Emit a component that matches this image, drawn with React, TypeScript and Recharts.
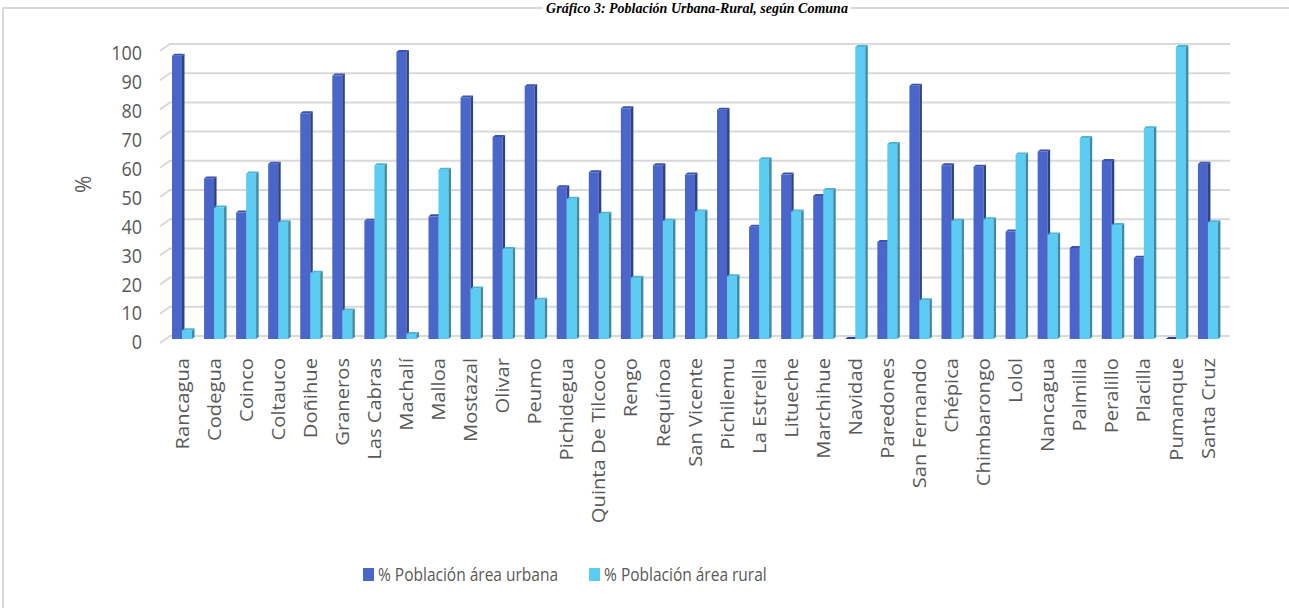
import * as React from 'react';
import { Bar, BarChart, CartesianGrid, XAxis, YAxis } from 'recharts';

const comunas = [
  'Rancagua', 'Codegua', 'Coinco', 'Coltauco', 'Doñihue', 'Graneros', 'Las Cabras',
  'Machalí', 'Malloa', 'Mostazal', 'Olivar', 'Peumo', 'Pichidegua', 'Quinta De Tilcoco',
  'Rengo', 'Requínoa', 'San Vicente', 'Pichilemu', 'La Estrella', 'Litueche', 'Marchihue',
  'Navidad', 'Paredones', 'San Fernando', 'Chépica', 'Chimbarongo', 'Lolol', 'Nancagua',
  'Palmilla', 'Peralillo', 'Placilla', 'Pumanque', 'Santa Cruz',
];

const urbana = [
  97, 55, 43.3, 60, 77.3, 90.2, 40.5, 98.3, 42, 82.7, 69.2, 86.6, 52, 57.1, 79, 59.5, 56.3,
  78.5, 38.4, 56.3, 49, 0, 33.2, 86.7, 59.5, 59, 36.8, 64.2, 31.2, 61, 27.8, 0, 60,
];

const rural = [
  3, 45, 56.7, 40, 22.7, 9.8, 59.5, 1.7, 58, 17.3, 30.8, 13.4, 48, 42.9, 21, 40.5, 43.7,
  21.5, 61.6, 43.7, 51, 100, 66.8, 13.3, 40.5, 41, 63.2, 35.8, 68.8, 39, 72.2, 100, 40,
];

const yTicks = [0, 10, 20, 30, 40, 50, 60, 70, 80, 90, 100];

const seriesNames = {
  urbana: '% Población área urbana',
  rural: '% Población área rural',
};

const data = comunas.map((comuna, i) => ({ comuna, urbana: urbana[i], rural: rural[i] }));

// front / side / top faces of the fake 3d bars
const colors = {
  urbana: { front: '#4A66C8', side: '#2F418A', top: '#3A53B2' },
  rural: { front: '#5DCCF2', side: '#3A8CA8', top: '#48B5DA' },
};

const textColor = '#595959';
const font = '"Open Sans", sans-serif';

function Bar3D(props: any) {
  const { x, y, width, height, c } = props;
  const d = 2.5;
  const dy = 2;
  const h = Math.max(height, 0);
  return (
    <g>
      <rect x={x} y={y} width={width} height={h} fill={c.front} />
      <polygon
        points={`${x + width},${y} ${x + width + d},${y - dy} ${x + width + d},${y + h - dy} ${x + width},${y + h}`}
        fill={c.side}
      />
      <polygon
        points={`${x},${y} ${x + d},${y - dy} ${x + width + d},${y - dy} ${x + width},${y}`}
        fill={h === 0 ? c.side : c.top}
      />
    </g>
  );
}

function XTick(props: any) {
  const { x, y, payload } = props;
  return (
    <g transform={`translate(${x},${y})`}>
      <text
        transform="rotate(-90) scale(1.12,1)"
        x={-11 / 1.12}
        y={0}
        textAnchor="end"
        dominantBaseline="central"
        fill={textColor}
        fontFamily={font}
        fontSize={18}
      >
        {payload.value}
      </text>
    </g>
  );
}

function YTick(props: any) {
  const { x, y, payload } = props;
  const shift = 3 + 0.03 * payload.value;
  return (
    <g transform={`translate(${x},${y + shift}) scale(1,1.1)`}>
      <text x={0} y={0} textAnchor="end" dominantBaseline="central" fill={textColor} fontFamily={font} fontSize={18}>
        {payload.value}
      </text>
    </g>
  );
}

// excel-like 3d gridline: short slant on the left wall, then the back wall line
function GridLine(props: any) {
  const { x1, x2, y1 } = props;
  return (
    <path
      key={props.key}
      d={`M${x1 - 6},${y1 + 4} L${x1 + 4},${y1 - 3} L${x2 + 6},${y1 - 3}`}
      stroke="#D9D9D9"
      strokeWidth={2}
      fill="none"
    />
  );
}

export default function App() {
  return (
    <div style={{ position: 'relative', width: 1289, height: 608, overflow: 'hidden', background: '#fff' }}>
      <style>{'body{margin:0}'}</style>
      <div
        style={{
          position: 'absolute',
          left: 2,
          top: 7,
          width: 1400,
          height: 700,
          borderLeft: '2px solid #D9D9D9',
          borderTop: '2px solid #D9D9D9',
        }}
      />
      <div
        style={{
          position: 'absolute',
          left: 697,
          top: 1,
          transform: 'translateX(-50%)',
          whiteSpace: 'nowrap',
          fontFamily: '"Liberation Serif", serif',
          fontStyle: 'italic',
          fontWeight: 'bold',
          fontSize: 14,
          lineHeight: '16px',
          color: '#000',
          background: '#fff',
          padding: '0 3px',
        }}
      >
        Gráfico 3: Población Urbana-Rural, según Comuna
      </div>
      <div style={{ position: 'absolute', left: 0, top: 0 }}>
        <BarChart
          width={1289}
          height={608}
          data={data}
          barSize={10}
          barGap={0}
          margin={{ top: 47, right: 65, left: 6, bottom: 0 }}
        >
          <CartesianGrid vertical={false} horizontal={(p: any) => <GridLine {...p} />} />
          <XAxis
            dataKey="comuna"
            interval={0}
            height={269}
            tickLine={false}
            axisLine={false}
            tickSize={0}
            tickMargin={8}
            tick={<XTick />}
          />
          <YAxis
            type="number"
            domain={[0, 100]}
            ticks={yTicks}
            width={160}
            tickLine={false}
            axisLine={false}
            tickSize={0}
            tickMargin={24}
            tick={<YTick />}
            label={{
              value: '%',
              angle: -90,
              position: 'insideLeft',
              offset: 78,
              style: { fill: textColor, fontFamily: font, fontSize: 21 },
            }}
          />
          <Bar
            dataKey="urbana"
            name={seriesNames.urbana}
            fill={colors.urbana.front}
            isAnimationActive={false}
            shape={(p: any) => <Bar3D {...p} c={colors.urbana} />}
          />
          <Bar
            dataKey="rural"
            name={seriesNames.rural}
            fill={colors.rural.front}
            isAnimationActive={false}
            shape={(p: any) => <Bar3D {...p} c={colors.rural} />}
          />
        </BarChart>
      </div>
      <div
        style={{
          position: 'absolute',
          left: 363,
          top: 563,
          display: 'flex',
          alignItems: 'center',
          fontFamily: font,
          fontSize: 15.5,
          color: textColor,
        }}
      >
        {(['urbana', 'rural'] as const).map((k, i) => (
          <div key={k} style={{ display: 'flex', alignItems: 'center', marginLeft: i ? 31 : 0 }}>
            <span style={{ width: 11, height: 13, background: colors[k].front, marginRight: 4 }} />
            <span style={{ display: 'inline-block', transform: 'scaleY(1.12)' }}>{seriesNames[k]}</span>
          </div>
        ))}
      </div>
    </div>
  );
}
